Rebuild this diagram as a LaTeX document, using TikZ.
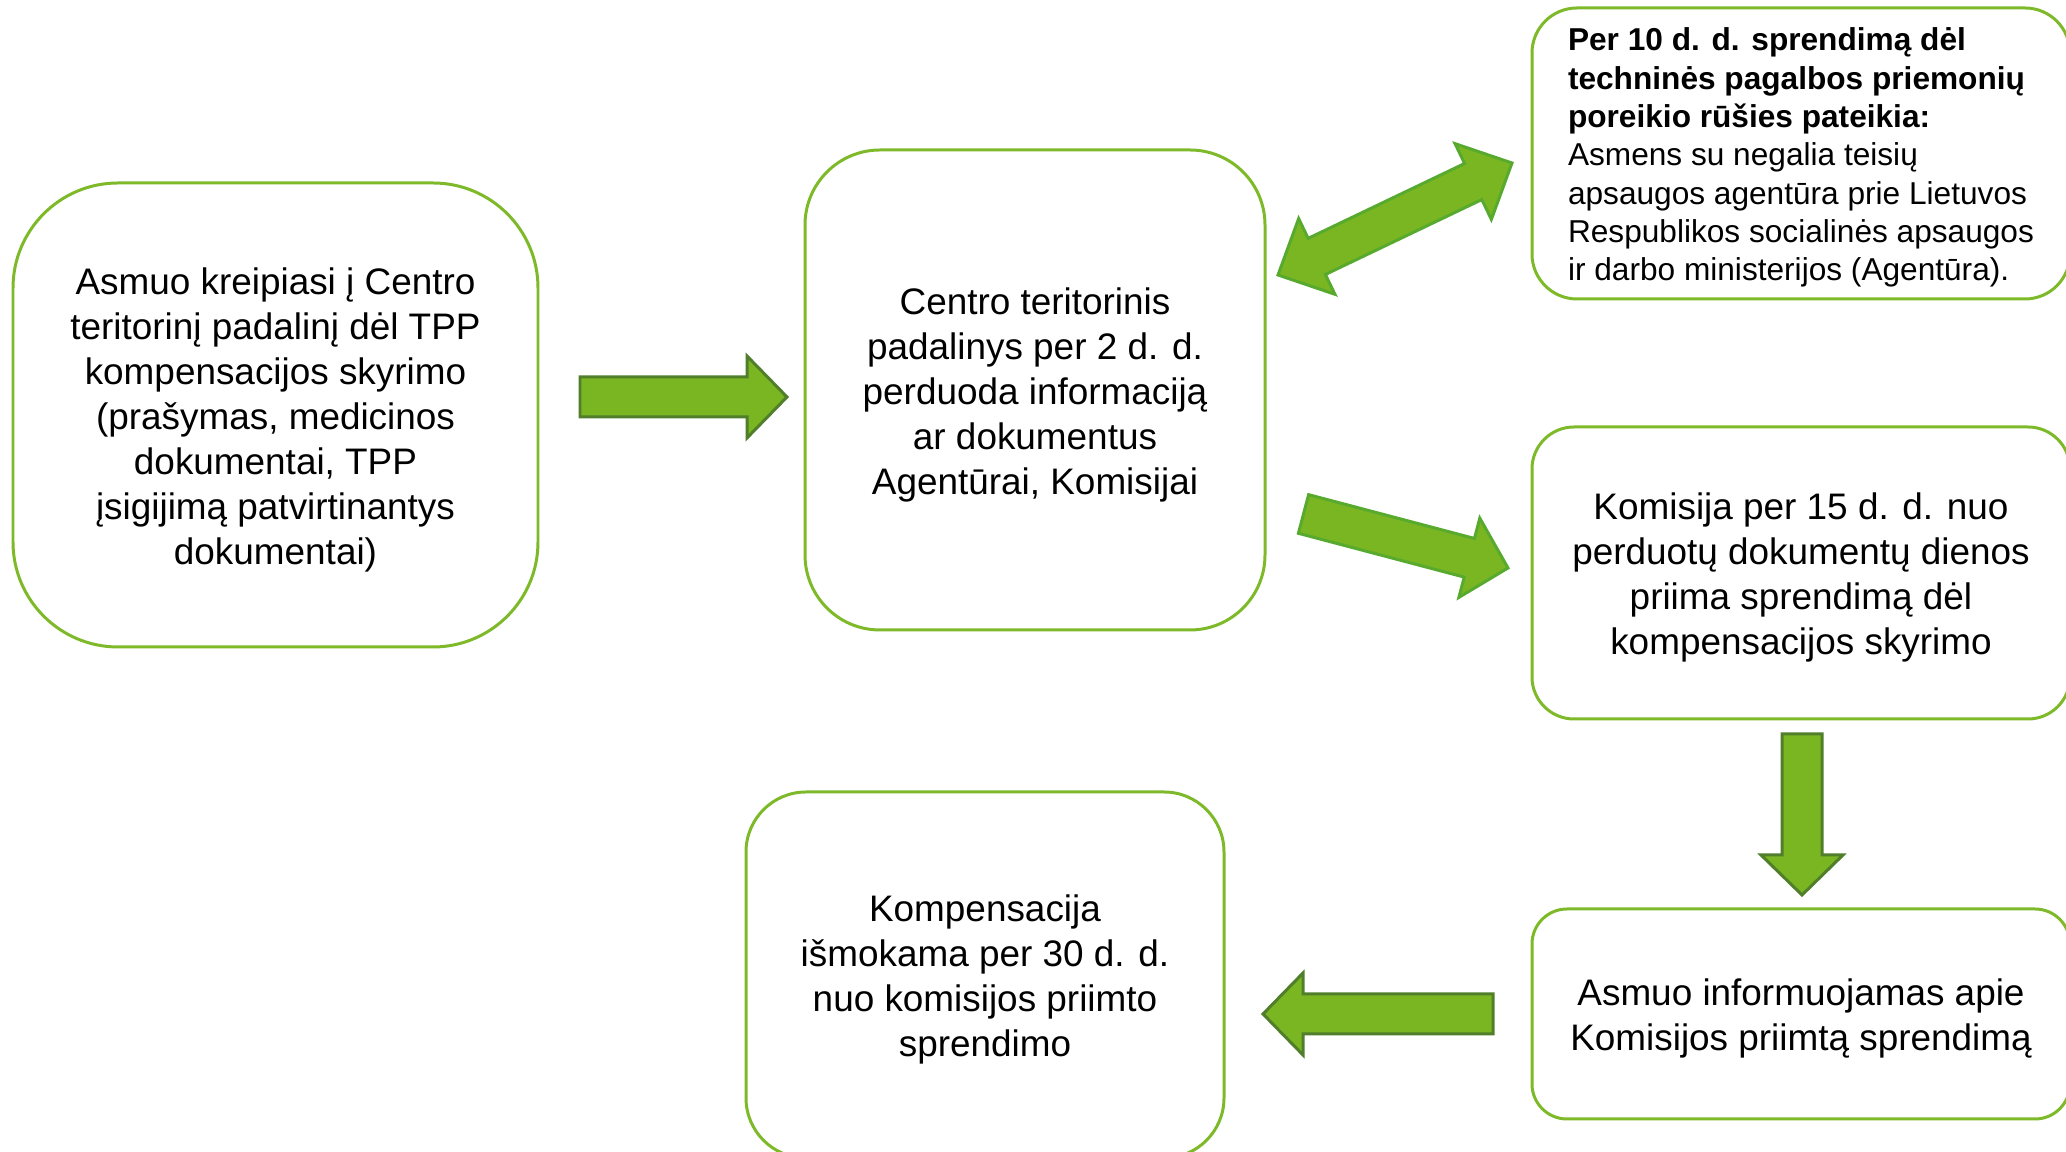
\documentclass[tikz,border=0pt]{standalone}
\usepackage{fontspec}
\setmainfont{Liberation Sans}
\usetikzlibrary{calc}

\definecolor{boxgreen}{RGB}{125,185,40}
\definecolor{arrowfill}{RGB}{122,182,34}
\definecolor{arrowdark}{RGB}{80,126,42}
\definecolor{arrowlight}{RGB}{88,170,46}

% extra room above the first text line
\newcommand{\toppad}[1][3.65mm]{\rule{0pt}{#1}}

% block arrow: [style]{tail}{tip}
\newcommand{\blockarrow}[3][]{%
  \coordinate (bah) at ($(#3)!0.40cm!(#2)$);
  \draw[#1] ($(#2)!0.2cm!90:(#3)$) -- ($(bah)!0.2cm!90:(#3)$)
    -- ($(bah)!0.41cm!90:(#3)$) -- (#3) -- ($(bah)!0.41cm!-90:(#3)$)
    -- ($(bah)!0.2cm!-90:(#3)$) -- ($(#2)!0.2cm!-90:(#3)$) -- cycle;
}

% double block arrow: [style]{tip}{tip}
\newcommand{\dblockarrow}[3][]{%
  \coordinate (bat) at ($(#2)!0.43cm!(#3)$);
  \coordinate (bah) at ($(#3)!0.43cm!(#2)$);
  \draw[#1] (#2) -- ($(bat)!0.42cm!90:(#3)$) -- ($(bat)!0.2cm!90:(#3)$)
    -- ($(bah)!0.2cm!90:(#3)$) -- ($(bah)!0.42cm!90:(#3)$) -- (#3)
    -- ($(bah)!0.42cm!-90:(#3)$) -- ($(bah)!0.2cm!-90:(#3)$)
    -- ($(bat)!0.2cm!-90:(#3)$) -- ($(bat)!0.42cm!-90:(#3)$) -- cycle;
}

\begin{document}
\begin{tikzpicture}[thick]

% =========================
% Styles
% =========================
\tikzstyle{stage} = [
    rectangle, draw=boxgreen,
    line width=0.85pt,
    align=center,
    inner sep=0pt,
    font=\fontsize{10.5}{12.8}\selectfont
]

\tikzstyle{note} = [
    stage,
    align=left,
    font=\fontsize{9}{10.9}\selectfont
]

\tikzstyle{bigarrow} = [fill=arrowfill, draw=arrowdark, line width=0.85pt]
\tikzstyle{slantarrow} = [bigarrow, draw=arrowlight]

\useasboundingbox (0,0) rectangle (20.66,11.52);
\clip (0,0) rectangle (20.66,11.52);

% =========================
% Nodes (FIXED POSITIONS)
% =========================
\node[stage, rounded corners=1.05cm, minimum width=5.25cm, minimum height=4.64cm]
    (kreipimasis) at (2.755,7.37)
    {\toppad Asmuo kreipiasi į Centro\\teritorinį padalinį dėl TPP\\kompensacijos skyrimo\\(prašymas, medicinos\\dokumentai, TPP\\įsigijimą patvirtinantys\\dokumentai)};

\node[stage, rounded corners=0.75cm, minimum width=4.60cm, minimum height=4.80cm]
    (padalinys) at (10.35,7.62)
    {\toppad Centro teritorinis\\padalinys per 2 d. d.\\perduoda informaciją\\ar dokumentus\\Agentūrai, Komisijai};

\node[note, rounded corners=0.45cm, minimum width=5.38cm, minimum height=2.91cm]
    (agentura) at (18.01,9.985)
    {\toppad[3.1mm]\textbf{Per 10 d. d. sprendimą dėl}\\\textbf{techninės pagalbos priemonių}\\\textbf{poreikio rūšies pateikia:}\\Asmens su negalia teisių\\apsaugos agentūra prie Lietuvos\\Respublikos socialinės apsaugos\\ir darbo ministerijos (Agentūra).};

\node[stage, rounded corners=0.42cm, minimum width=5.38cm, minimum height=2.92cm]
    (komisija) at (18.01,5.79)
    {\toppad Komisija per 15 d. d. nuo\\perduotų dokumentų dienos\\priima sprendimą dėl\\kompensacijos skyrimo};

\node[stage, rounded corners=0.35cm, minimum width=5.38cm, minimum height=2.10cm]
    (informavimas) at (18.01,1.38)
    {\toppad Asmuo informuojamas apie\\Komisijos priimtą sprendimą};

\node[stage, rounded corners=0.60cm, minimum width=4.78cm, minimum height=3.66cm]
    (ismoka) at (9.85,1.77)
    {\toppad Kompensacija\\išmokama per 30 d. d.\\nuo komisijos priimto\\sprendimo};

% =========================
% Connections
% =========================
\coordinate (k2p-a) at (5.80,7.55);
\coordinate (k2p-b) at (7.87,7.55);
\coordinate (p2a-a) at (12.78,8.77);
\coordinate (p2a-b) at (15.12,9.89);
\coordinate (p2k-a) at (13.035,6.38);
\coordinate (p2k-b) at (15.08,5.84);
\coordinate (k2i-a) at (18.02,4.18);
\coordinate (k2i-b) at (18.02,2.57);
\coordinate (i2i-a) at (14.93,1.38);
\coordinate (i2i-b) at (12.63,1.38);

\blockarrow[bigarrow]{k2p-a}{k2p-b}
\dblockarrow[slantarrow]{p2a-a}{p2a-b}
\blockarrow[slantarrow]{p2k-a}{p2k-b}
\blockarrow[bigarrow]{k2i-a}{k2i-b}
\blockarrow[bigarrow]{i2i-a}{i2i-b}

\end{tikzpicture}
\end{document}
